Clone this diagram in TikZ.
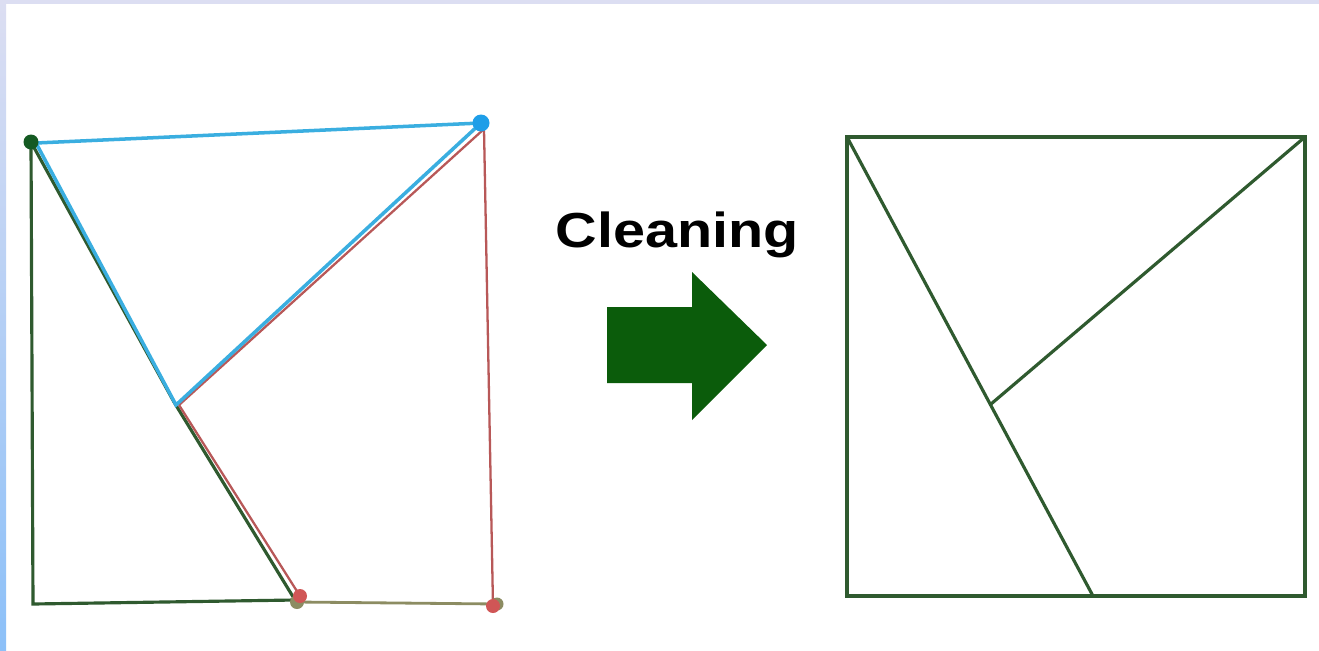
\documentclass[tikz,border=0pt]{standalone}
\usepackage{fontspec}
\setsansfont{Liberation Sans}
\usepackage{tikz}
\usetikzlibrary{positioning}
\definecolor{verdeosc}{HTML}{2F5A2F}
\definecolor{verdepunto}{HTML}{145A22}
\definecolor{azul}{HTML}{3AAEE0}
\definecolor{azulpunto}{HTML}{1E9EE8}
\definecolor{rojo}{HTML}{B85858}
\definecolor{rojopunto}{HTML}{D05656}
\definecolor{oliva}{HTML}{8C8C62}
\definecolor{flechaverde}{HTML}{0B5C0B}
\definecolor{lavanda}{HTML}{DCDEF2}
\definecolor{celeste}{HTML}{8CC0F8}
\tikzset{
  arista/.style={verdeosc, line width=1.8pt},
  aristaz/.style={azul, line width=2pt},
  aristar/.style={rojo, line width=1.3pt},
  aristao/.style={oliva, line width=1.6pt},
  punto/.style={circle, inner sep=0pt, minimum size=#1},
  titulo/.style={font=\sffamily\bfseries\fontsize{28}{34}\selectfont, text=black, xscale=1.17},
}
\begin{document}
\begin{tikzpicture}[x=0.02cm, y=-0.02cm]
  \useasboundingbox (0,0) rectangle (1319,650);
  % marco de fondo
  \fill[white] (0,0) rectangle (1319,650);
  \fill[lavanda] (0,0) rectangle (1319,4);
  \shade[top color=lavanda, bottom color=celeste] (0,0) rectangle (6,650);

  % grafo sucio (izquierda)
  \coordinate (ga) at (31,142); \coordinate (gc) at (174,402);
  \coordinate (ge) at (295,600); \coordinate (gd) at (33,604);
  \coordinate (ba) at (36,143); \coordinate (bb) at (481,123); \coordinate (bc) at (176,405);
  \coordinate (rb) at (484,129); \coordinate (rc) at (179,405);
  \coordinate (re) at (300,596); \coordinate (rf) at (493,606);
  \coordinate (oe) at (297,602); \coordinate (of) at (497,604);
  \draw[arista] (ga) -- (gd) -- (ge);
  \draw[arista] (ga) -- (gc) -- (ge);
  \draw[aristar] (rc) -- (re);
  \draw[aristar] (rb) -- (rf);
  \draw[aristar] (rb) -- (rc);
  \draw[aristao] (oe) -- (of);
  \draw[aristaz] (ba) -- (bb);
  \draw[aristaz] (ba) -- (bc) -- (bb);
  \node[punto=15*0.02cm, fill=verdepunto] (pa) at (ga) {};
  \node[punto=17*0.02cm, fill=azulpunto] (pb) at (bb) {};
  \node[punto=14*0.02cm, fill=oliva] (poe) at (oe) {};
  \node[punto=14*0.02cm, fill=rojopunto] (pre) at (re) {};
  \node[punto=13*0.02cm, fill=oliva] (pof) at (of) {};
  \node[punto=14*0.02cm, fill=rojopunto] (prf) at (rf) {};

  % rotulo y flecha
  \node[titulo] (limpieza) at (677,235) {Cleaning};
  \fill[flechaverde] (607,307) -- (692,307) -- (692,272) -- (767,345)
    -- (692,420) -- (692,383) -- (607,383) -- cycle;

  % grafo limpio (derecha)
  \coordinate (p1) at (847,137); \coordinate (p2) at (1305,137);
  \coordinate (p3) at (1305,596); \coordinate (p4) at (847,596);
  \coordinate (q) at (1093,596); \coordinate (m) at (991,404);
  \draw[arista] (p1) -- (p2) -- (p3) -- (p4) -- cycle;
  \draw[arista] (p1) -- (q);
  \draw[arista] (m) -- (p2);
\end{tikzpicture}
\end{document}
